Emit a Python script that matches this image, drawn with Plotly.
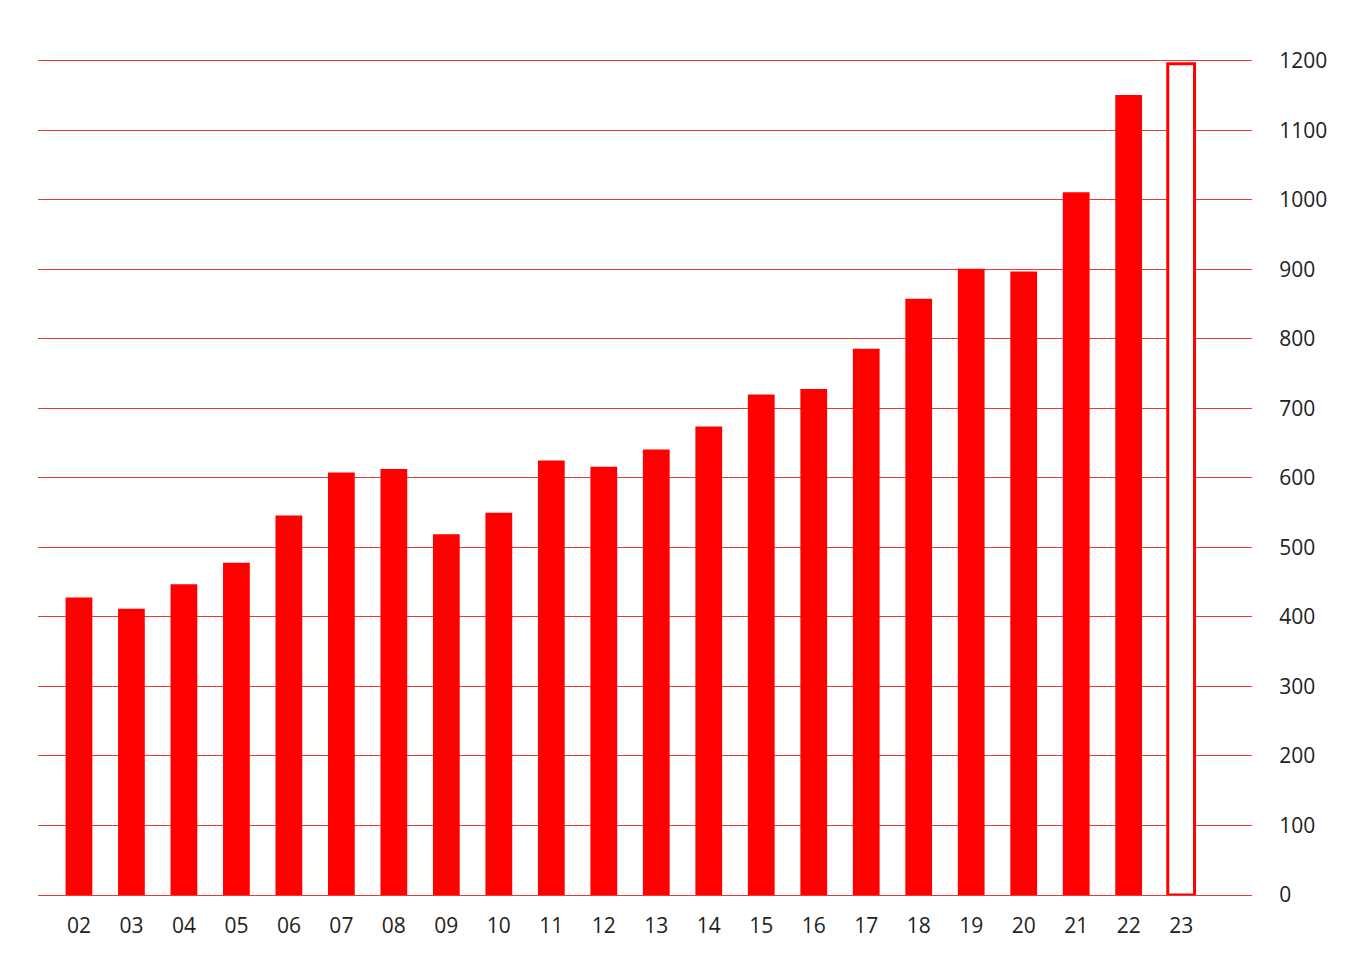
import plotly.graph_objects as go

years = ["02", "03", "04", "05", "06", "07", "08", "09", "10", "11", "12",
         "13", "14", "15", "16", "17", "18", "19", "20", "21", "22", "23"]
values = [428, 412, 447, 478, 546, 608, 613, 519, 550, 625, 616,
          641, 674, 720, 728, 786, 858, 901, 897, 1011, 1151, 1196]
y_ticks = [0, 100, 200, 300, 400, 500, 600, 700, 800, 900, 1000, 1100, 1200]

RED = "#ff0000"
fill = [RED] * (len(years) - 1) + ["white"]
line_w = [0] * (len(years) - 1) + [3]

fig = go.Figure()
fig.add_trace(go.Bar(
    x=list(range(len(years))), y=values,
    width=0.51,
    marker=dict(color=fill, line=dict(color=RED, width=line_w)),
    hoverinfo="skip",
))

fig.update_layout(
    width=1362, height=961,
    margin=dict(l=30, r=118, t=46, b=74),
    plot_bgcolor="white", paper_bgcolor="white",
    showlegend=False,
    font=dict(family="Open Sans, Lato, sans-serif", size=21, color="#222222"),
    xaxis=dict(
        tickmode="array", tickvals=list(range(len(years))), ticktext=years,
        range=[-0.78, 22.35],
        showgrid=False, zeroline=False, showline=False,
        ticks="outside", ticklen=12, tickcolor="rgba(0,0,0,0)",
    ),
    yaxis=dict(
        side="right", range=[0, 1210],
        tickmode="array", tickvals=y_ticks,
        showgrid=True, gridcolor="#e53b3b", gridwidth=1,
        zeroline=True, zerolinecolor="#e53b3b", zerolinewidth=1,
        showline=False,
        ticks="outside", ticklen=22, tickcolor="rgba(0,0,0,0)",
    ),
)

fig.write_html("out.html")
